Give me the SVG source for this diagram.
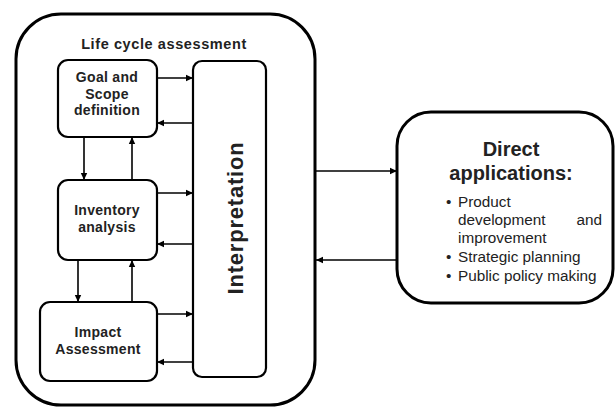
<svg xmlns="http://www.w3.org/2000/svg" width="616" height="408" viewBox="0 0 616 408">
<defs>
<marker id="ah" markerWidth="8" markerHeight="8" refX="7" refY="4" orient="auto" markerUnits="userSpaceOnUse">
<path d="M0,0.8 L7,4 L0,7.2 Z" fill="#000"/>
</marker>
<style>
.box{fill:#fff;stroke:#000;stroke-width:2.2}
.big{fill:#fff;stroke:#000;stroke-width:3}
.t{font-family:"Liberation Sans",Arial,sans-serif;font-weight:bold;font-size:14px;letter-spacing:0.3px;text-anchor:middle;fill:#222}
.ttl{font-size:14.5px;letter-spacing:0.6px}
.int{font-size:22px;letter-spacing:0.8px}
.da{font-size:20px;letter-spacing:0}
.b{font-family:"Liberation Sans",Arial,sans-serif;font-size:15.3px;fill:#222}
.c{stroke:#000;stroke-width:1.6;fill:none;marker-end:url(#ah)}
</style>
</defs>
<rect width="616" height="408" fill="#fff"/>
<g id="lca">
<rect class="big" x="16" y="14" width="299" height="391" rx="45"/>
<text class="t ttl" x="164" y="49">Life cycle assessment</text>
</g>
<g id="goal">
<rect class="box" x="58" y="60" width="99" height="77" rx="10"/>
<text class="t" x="107" y="82">Goal and</text>
<text class="t" x="107" y="99">Scope</text>
<text class="t" x="107" y="115">definition</text>
</g>
<g id="inventory">
<rect class="box" x="58" y="180" width="99" height="80" rx="10"/>
<text class="t" x="107" y="215">Inventory</text>
<text class="t" x="107" y="232">analysis</text>
</g>
<g id="impact">
<rect class="box" x="40" y="302" width="117" height="79" rx="10"/>
<text class="t" x="98" y="337">Impact</text>
<text class="t" x="98" y="354">Assessment</text>
</g>
<g id="interpretation">
<rect class="box" x="193" y="61" width="73" height="316" rx="9"/>
<text class="t int" transform="translate(243,218) rotate(-90)">Interpretation</text>
</g>
<g id="direct">
<rect class="big" x="397" y="112" width="216" height="191" rx="34"/>
<text class="t da" x="511" y="156">Direct</text>
<text class="t da" x="511" y="180">applications:</text>
<text class="b" x="446" y="207" font-size="13">•</text>
<text class="b" x="458" y="207">Product</text>
<text class="b" x="458" y="225">development</text>
<text class="b" x="602" y="225" text-anchor="end">and</text>
<text class="b" x="458" y="243">improvement</text>
<text class="b" x="446" y="262">•</text>
<text class="b" x="458" y="262">Strategic planning</text>
<text class="b" x="446" y="281">•</text>
<text class="b" x="458" y="281">Public policy making</text>
</g>
<g id="connectors">
<line class="c" x1="157" y1="78" x2="193" y2="78"/>
<line class="c" x1="193" y1="123" x2="157" y2="123"/>
<line class="c" x1="157" y1="193" x2="193" y2="193"/>
<line class="c" x1="193" y1="244" x2="157" y2="244"/>
<line class="c" x1="157" y1="314" x2="193" y2="314"/>
<line class="c" x1="193" y1="362" x2="157" y2="362"/>
<line class="c" x1="84" y1="137" x2="84" y2="180"/>
<line class="c" x1="132" y1="180" x2="132" y2="137"/>
<line class="c" x1="78" y1="260" x2="78" y2="302"/>
<line class="c" x1="132" y1="302" x2="132" y2="260"/>
<line class="c" x1="316" y1="171" x2="397" y2="171"/>
<line class="c" x1="397" y1="260" x2="316" y2="260"/>
</g>
</svg>
